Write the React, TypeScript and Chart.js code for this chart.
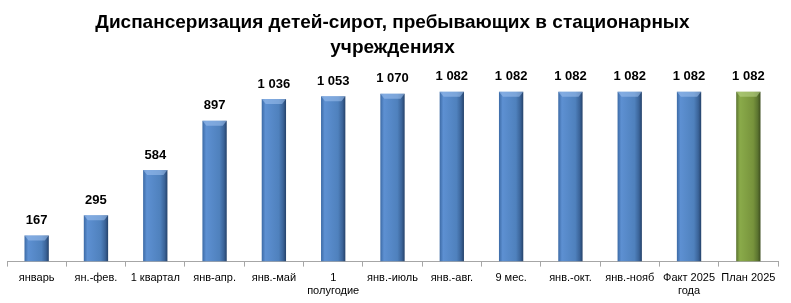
import React, { useEffect, useRef } from "react";
import { Chart, registerables } from "chart.js";

Chart.register(...registerables);

const categories: (string | string[])[] = [
  "январь", "ян.-фев.", "1 квартал", "янв-апр.", "янв.-май", ["1", "полугодие"],
  "янв.-июль", "янв.-авг.", "9 мес.", "янв.-окт.", "янв.-нояб", ["Факт 2025", "года"], "План 2025",
];
const values = [167, 295, 584, 897, 1036, 1053, 1070, 1082, 1082, 1082, 1082, 1082, 1082];
const isPlan = [false, false, false, false, false, false, false, false, false, false, false, false, true];
const titleLines = ["Диспансеризация детей-сирот, пребывающих в стационарных", "учреждениях"];
const Y_MAX = 1192;
const BAR_PCT = 0.41;

function fmt(v: number): string {
  if (v >= 1000) return `${Math.floor(v / 1000)} ${String(v % 1000).padStart(3, "0")}`;
  return String(v);
}

const labelPlugin = {
  id: "barLabels",
  afterDatasetsDraw(chart: any) {
    const ctx = chart.ctx;
    const meta = chart.getDatasetMeta(0);
    ctx.save();
    meta.data.forEach((bar: any, i: number) => {
      const half = bar.width / 2;
      const x0 = bar.x - half;
      const x1 = bar.x + half;
      const y = bar.y;
      // top bevel highlight
      ctx.beginPath();
      ctx.moveTo(x0, y);
      ctx.lineTo(x1, y);
      ctx.lineTo(x1 - 4, y + 5);
      ctx.lineTo(x0 + 4, y + 5);
      ctx.closePath();
      ctx.fillStyle = isPlan[i] ? "rgba(190,215,140,0.55)" : "rgba(160,195,240,0.55)";
      ctx.fill();
    });
    ctx.font = "bold 13px 'Liberation Sans', sans-serif";
    ctx.fillStyle = "#000";
    ctx.textAlign = "center";
    ctx.textBaseline = "middle";
    meta.data.forEach((bar: any, i: number) => {
      ctx.fillText(fmt(values[i]), bar.x, bar.y - 15);
    });
    ctx.restore();
  },
};

function barColor(c: any) {
  const chart = c.chart;
  const plan = isPlan[c.dataIndex];
  const base = plan ? "#77933c" : "#4f81bd";
  const xs = chart.scales && chart.scales.x;
  if (!chart.chartArea || !xs || c.dataIndex === undefined) return base;
  const cx = xs.getPixelForValue(c.dataIndex);
  const half = (xs.width / categories.length) * BAR_PCT / 2;
  if (!isFinite(cx) || !isFinite(half)) return base;
  const g = chart.ctx.createLinearGradient(cx - half, 0, cx + half, 0);
  if (plan) {
    g.addColorStop(0, "#5a7330");
    g.addColorStop(0.15, "#8aab4a");
    g.addColorStop(0.7, "#77933c");
    g.addColorStop(0.88, "#5c7530");
    g.addColorStop(1, "#3d4e1f");
  } else {
    g.addColorStop(0, "#3c6aa5");
    g.addColorStop(0.15, "#5d90d2");
    g.addColorStop(0.7, "#4f81bd");
    g.addColorStop(0.88, "#3b6499");
    g.addColorStop(1, "#25426a");
  }
  return g;
}

export default function App() {
  const ref = useRef<HTMLCanvasElement | null>(null);
  useEffect(() => {
    if (!ref.current) return;
    const chart = new Chart(ref.current, {
      type: "bar",
      data: {
        labels: categories,
        datasets: [
          {
            data: values,
            backgroundColor: barColor as any,
            borderWidth: 0,
            barPercentage: BAR_PCT,
            categoryPercentage: 1,
          },
        ],
      },
      options: {
        animation: false,
        responsive: false,
        maintainAspectRatio: false,
        layout: { padding: { left: 7, right: 13, top: 0, bottom: 0 } },
        plugins: {
          legend: { display: false },
          tooltip: { enabled: false },
          title: {
            display: true,
            text: titleLines,
            color: "#000",
            font: { family: "'Liberation Sans', sans-serif", size: 19, weight: "bold", lineHeight: 1.33 },
            padding: { top: 10, bottom: 14 },
          },
        },
        scales: {
          x: {
            grid: {
              display: true,
              offset: true,
              drawOnChartArea: false,
              drawTicks: true,
              tickLength: 5,
              color: "#a6a6a6",
            },
            border: { display: true, color: "#a6a6a6", width: 1 },
            ticks: {
              color: "#000",
              font: { family: "'Liberation Sans', sans-serif", size: 11, lineHeight: 1.2 },
              maxRotation: 0,
              autoSkip: false,
              padding: 5,
            },
          },
          y: {
            display: false,
            min: 0,
            max: Y_MAX,
          },
        },
      },
      plugins: [labelPlugin],
    });
    return () => chart.destroy();
  }, []);
  return (
    <div style={{ position: "fixed", left: 0, top: 0, width: 791, height: 303, background: "#fff" }}>
      <canvas ref={ref} width={791} height={303} style={{ width: 791, height: 303 }} />
    </div>
  );
}
